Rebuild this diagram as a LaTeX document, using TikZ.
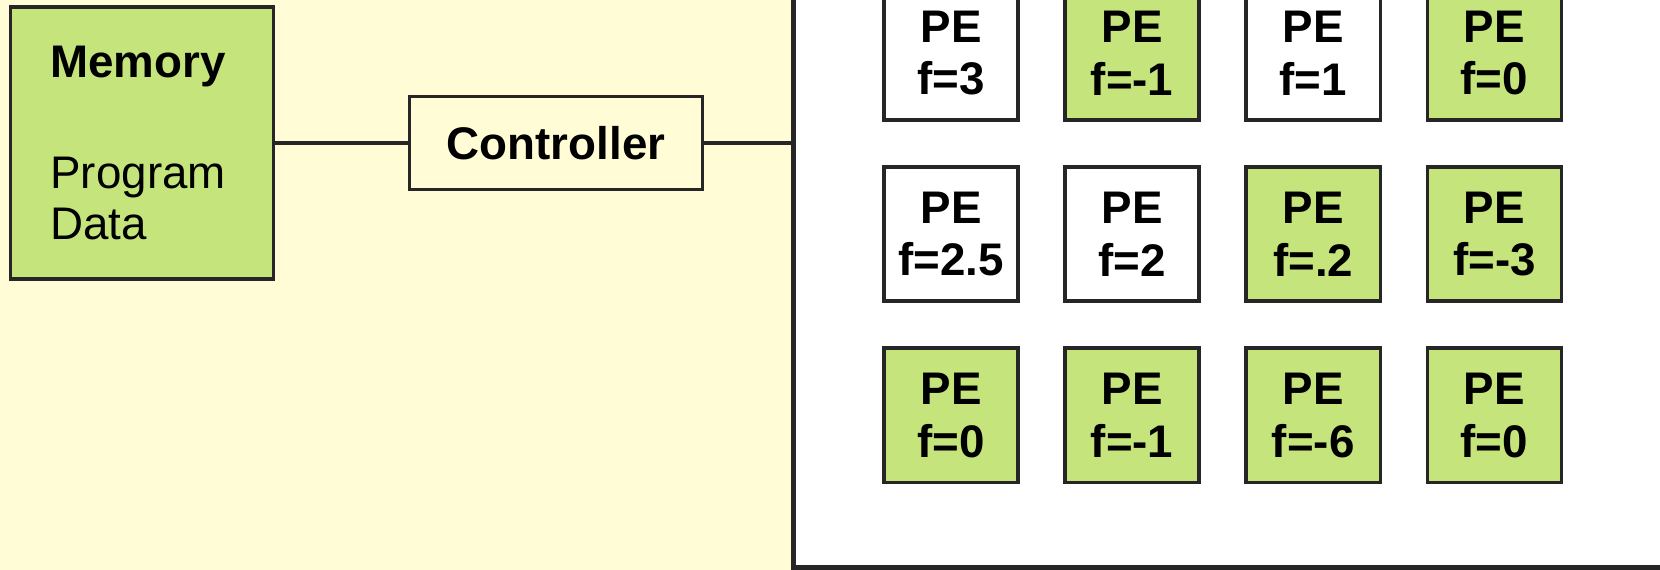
\documentclass[tikz,border=0pt]{standalone}
\usepackage{fontspec}
\setmainfont{Liberation Sans}
\usetikzlibrary{positioning}
\usepackage{xcolor}
\definecolor{cellgreen}{RGB}{197,229,124}
\definecolor{bgyellow}{RGB}{255,252,214}

\begin{document}
\begin{tikzpicture}[
x=0.01cm, y=-0.01cm,
node distance=0.435cm and 0.435cm,
box/.style={draw=black!85, line width=1pt, rectangle,
font=\fontsize{13}{14.5}\selectfont},
pebox/.style={box, minimum width=1.34cm, minimum height=1.34cm,
inner sep=0pt, align=center, font=\fontsize{13}{15}\selectfont\bfseries},
pegreen/.style={pebox, fill=cellgreen},
pewhite/.style={pebox, fill=white},
wire/.style={draw=black!85, line width=1pt}
]

\fill[bgyellow] (0,0) rectangle (1660,570);
\useasboundingbox (0,0) rectangle (1660,570);

\node[box, fill=cellgreen, minimum width=2.63cm, minimum height=2.72cm,
text width=1.83cm, align=left, inner sep=0pt] (memory) at (142,143)
{\textbf{Memory}\\[17pt]Program\\Data};
\node[box, font=\fontsize{13}{14.5}\selectfont\bfseries,
minimum width=2.93cm, minimum height=0.925cm] (ctrl) at (556,143) {Controller};
\node[draw=black!85, line width=1.4pt, fill=white, minimum width=9.1cm,
minimum height=5.77cm, inner sep=0pt] (array) at (1249,278.5) {};

\draw[wire] (memory) -- (ctrl);
\draw[wire] (ctrl) -- (ctrl -| array.west);

% processing elements
\node[pewhite] (pe11) at (951,53) {PE\\f=3};
\node[pegreen, right=of pe11] (pe12) {PE\\f=-1};
\node[pewhite, right=of pe12] (pe13) {PE\\f=1};
\node[pegreen, right=of pe13] (pe14) {PE\\f=0};

\node[pewhite, below=of pe11] (pe21) {PE\\f=2.5};
\node[pewhite, right=of pe21] (pe22) {PE\\f=2};
\node[pegreen, right=of pe22] (pe23) {PE\\f=.2};
\node[pegreen, right=of pe23] (pe24) {PE\\f=-3};

\node[pegreen, below=of pe21] (pe31) {PE\\f=0};
\node[pegreen, right=of pe31] (pe32) {PE\\f=-1};
\node[pegreen, right=of pe32] (pe33) {PE\\f=-6};
\node[pegreen, right=of pe33] (pe34) {PE\\f=0};

\end{tikzpicture}
\end{document}
